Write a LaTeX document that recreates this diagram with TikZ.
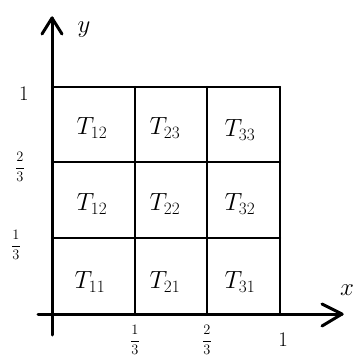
\documentclass[tikz,border=0pt]{standalone}
\usetikzlibrary{arrows.meta,calc}
\begin{document}
\begin{tikzpicture}[x=1pt,y=-1pt,
  gridline/.style={line width=2.2pt,line cap=round},
  axisline/.style={line width=3pt,line cap=round},
  cell/.style={font=\fontsize{24}{28}\selectfont,inner sep=0pt},
  tick/.style={font=\fontsize{15}{18}\selectfont,inner sep=0pt}]
\useasboundingbox (0,0) rectangle (359,363);
% grid coordinates
\coordinate (o) at (52,314);
\coordinate (yt) at (52,18);
\coordinate (yb) at (52,335);
\coordinate (xl) at (38,314);
\coordinate (xr) at (342,314);
\coordinate (a1) at (135,87);
\coordinate (a0) at (135,314);
\coordinate (b1) at (207,87);
\coordinate (b0) at (207,314);
\coordinate (c1) at (280,87);
\coordinate (c0) at (280,314);
\coordinate (l1) at (52,87);
\coordinate (l2) at (52,162);
\coordinate (r2) at (280,162);
\coordinate (l3) at (52,238);
\coordinate (r3) at (280,238);
% axes
\draw[axisline] (yb) -- (yt);
\draw[axisline] (xl) -- (xr);
\draw[axisline,line join=round] ($(yt)+(-10,16)$) -- (yt) -- ($(yt)+(10,16)$);
\draw[axisline,line join=round] ($(xr)+(-20,-10)$) -- (xr) -- ($(xr)+(-20,12)$);
% grid
\draw[gridline] (l1) -- (c1);
\draw[gridline] (l2) -- (r2);
\draw[gridline] (l3) -- (r3);
\draw[gridline] (a1) -- (a0);
\draw[gridline] (b1) -- (b0);
\draw[gridline] (c1) -- (c0);
% axis labels
\node[cell,font=\fontsize{30}{34}\selectfont] (ylab) at (84,30) {$y$};
\node[cell,font=\fontsize{30}{34}\selectfont] (xlab) at (347,290) {$x$};
% tick labels
\node[tick,font=\fontsize{20}{24}\selectfont] (y1) at (24,94) {$1$};
\node[tick] (y23) at (20,167) {$\displaystyle\frac{2}{3}$};
\node[tick] (y13) at (16,245) {$\displaystyle\frac{1}{3}$};
\node[tick] (x13) at (135,340) {$\displaystyle\frac{1}{3}$};
\node[tick] (x23) at (207,340) {$\displaystyle\frac{2}{3}$};
\node[tick,font=\fontsize{20}{24}\selectfont] (x1) at (283,340) {$1$};
% cells
\node[cell] (t12a) at (92,128) {$T_{12}$};
\node[cell] (t23) at (165,128) {$T_{23}$};
\node[cell] (t33) at (240,130) {$T_{33}$};
\node[cell] (t12b) at (92,204) {$T_{12}$};
\node[cell] (t22) at (165,204) {$T_{22}$};
\node[cell] (t32) at (240,204) {$T_{32}$};
\node[cell] (t11) at (90,282) {$T_{11}$};
\node[cell] (t21) at (165,282) {$T_{21}$};
\node[cell] (t31) at (240,282) {$T_{31}$};
\end{tikzpicture}
\end{document}
